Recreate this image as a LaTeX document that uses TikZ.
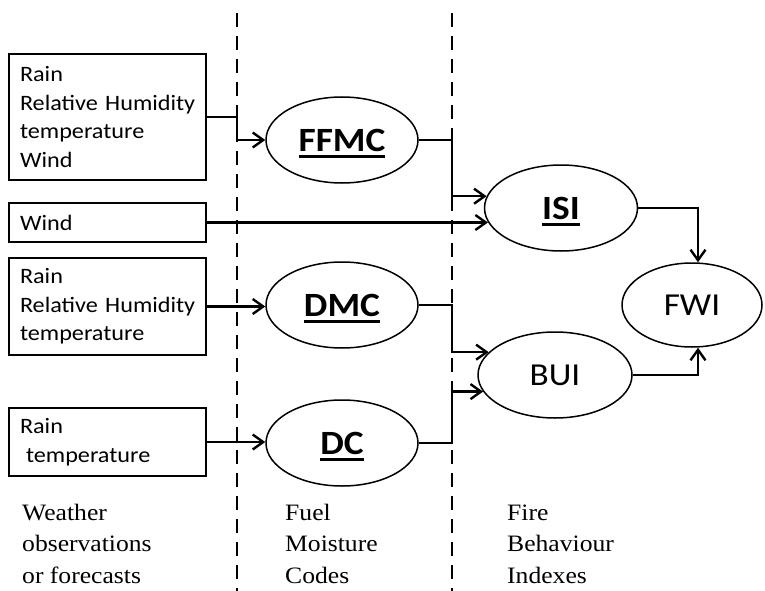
\documentclass[tikz,border=0pt]{standalone}
\usepackage{fontspec}
\setmainfont{Liberation Serif}[FakeStretch=1.09]
\newfontfamily\labelsans{Carlito}[FakeStretch=1.1]
\usetikzlibrary{shapes.geometric,arrows.meta}

% bold code name with a heavy underline that does not add depth
\newcommand\ulbold[1]{\setbox0\hbox{\bfseries #1}\leavevmode\rlap{\smash{\rule[-6.5pt]{\wd0}{2.4pt}}}\box0}

\begin{document}
\begin{tikzpicture}[x=1pt,y=-1pt,
  inputbox/.style={draw, line width=1.3pt, rectangle, minimum width=197pt,
    inner xsep=11pt, inner ysep=0pt, text width=175pt, align=left,
    font=\labelsans\fontsize{22}{28.6}\selectfont},
  codenode/.style={draw, line width=1.5pt, ellipse, inner sep=0pt,
    minimum width=152pt, minimum height=86pt,
    font=\labelsans\fontsize{34}{40}\selectfont},
  indexnode/.style={draw, line width=1.5pt, ellipse, inner sep=0pt,
    minimum width=152pt, minimum height=86pt,
    font=\labelsans\fontsize{32}{38}\selectfont},
  colcaption/.style={anchor=base west, align=left, inner sep=0pt,
    font=\fontsize{23.5}{31.5}\selectfont},
  divider/.style={line width=2.8pt, dash pattern=on 14pt off 9pt},
  conn/.style={line width=2.4pt, -{Straight Barb[length=10.5pt,width=15pt]}}
]
\fill[white] (0,0) rectangle (765,591);
\useasboundingbox (0,0) rectangle (765,591);

% column dividers
\draw[divider] (237,13) -- (237,591);
\draw[divider] (452,13) -- (452,591);

% turning columns for the connectors
\coordinate (colA) at (237,0);
\coordinate (colB) at (452,0);
\coordinate (colC) at (698,0);

% weather inputs
\node[inputbox, minimum height=126pt] (obs1) at (107.5,117)
  {Rain\\\mbox{Relative Humidity}\\temperature\\Wind};
\node[inputbox, minimum height=39pt] (obs2) at (107.5,222.5) {Wind};
\node[inputbox, minimum height=97pt] (obs3) at (107.5,306.5)
  {Rain\\\mbox{Relative Humidity}\\temperature};
\node[inputbox, minimum height=68pt] (obs4) at (107.5,442)
  {Rain\\\hspace*{6pt}temperature};

% fuel moisture codes
\node[codenode] (ffmc) at (342,140) {\ulbold{FFMC}};
\node[codenode] (dmc) at (342,305) {\ulbold{DMC}};
\node[codenode] (dc) at (342,443) {\ulbold{DC}};

% fire behaviour indexes
\node[codenode, minimum width=153pt] (isi) at (561,208) {\ulbold{ISI}};
\node[indexnode, minimum width=154pt] (bui) at (555,375) {BUI};
\node[indexnode, minimum width=140pt, minimum height=84pt] (fwi) at (692,305) {FWI};

% connectors
\draw[conn] (obs1.east) -- (obs1.east -| colA) |- (ffmc.west);
\draw[conn] (obs2.east) -- (isi.191 |- obs2.east);
\draw[conn] (obs3.east) -- (dmc.west |- obs3.east);
\draw[conn] (obs4.east) -- (dc.west |- obs4.east);
\draw[conn] (ffmc.east) -- (ffmc.east -| colB) |- (isi.171.5);
\draw[conn] (dmc.east) -- (dmc.east -| colB) |- (bui.161.6);
\draw[conn] (dc.east) -- (dc.east -| colB) |- (bui.193.5);
\draw[conn] (isi.east) -| (fwi.north -| colC);
\draw[conn] (bui.east) -| (fwi.south -| colC);

% column captions (base anchor sits on the last line)
\node[colcaption] (capweather) at (22,583) {Weather\\observations\\or forecasts};
\node[colcaption] (capfuel) at (285,583) {Fuel\\Moisture\\Codes};
\node[colcaption] (capfire) at (507,583) {Fire\\Behaviour\\Indexes};
\end{tikzpicture}
\end{document}
